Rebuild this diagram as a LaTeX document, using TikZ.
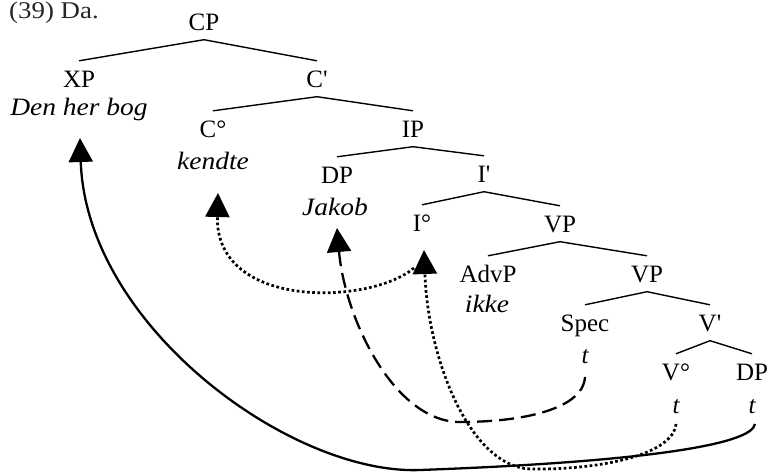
\documentclass[tikz,border=0pt]{standalone}
\usepackage{fontspec}
\setmainfont{Liberation Serif}
\usetikzlibrary{arrows.meta}
\newcommand\wstretch[1]{\scalebox{1.1}[1]{#1}}
\begin{document}
\begin{tikzpicture}[x=1pt,y=-1pt,
  cat/.style={anchor=base, font=\fontsize{25}{30}\selectfont, inner xsep=0pt, inner ysep=9.5pt, text height=16.5pt, text depth=0pt},
  wd/.style={anchor=base, font=\fontsize{25}{30}\selectfont\itshape, inner sep=0pt},
  branch/.style={line width=1.4pt},
  mv/.style={line width=2.3pt, -{Triangle[length=24pt,width=24pt]}},
  dottedmv/.style={mv, line width=2.7pt, dash pattern=on 2.7pt off 2.5pt},
  dashedmv/.style={mv, dash pattern=on 15pt off 7pt}]
\useasboundingbox (0,0) rectangle (772,472);
\clip (0,0) rectangle (772,472);
\fill[white] (0,0) rectangle (772,472);
% example label
\node[anchor=base west, font=\fontsize{24}{28}\selectfont, inner sep=0pt, text=black!85] (ex) at (9,18) {\scalebox{1.12}[1]{(39) Da.}};
% tree nodes
\node[cat] (cp) at (204,30) {CP};
\node[cat] (xp) at (79,87) {XP};
\node[wd] (xpw) at (79,115) {\wstretch{Den her bog}};
\node[cat] (cbar) at (317,87) {C\textquotesingle};
\node[cat] (c0) at (213,137) {C°};
\node[wd] (c0w) at (213,169) {\wstretch{kendte}};
\node[cat] (ip) at (413,137) {IP};
\node[cat] (dp) at (337,183) {DP};
\node[wd] (dpw) at (335,215) {\wstretch{Jakob}};
\node[cat] (ibar) at (484,182) {I\textquotesingle};
\node[cat] (i0) at (422,231) {I°};
\node[cat] (vp) at (560,232) {VP};
\node[cat] (advp) at (488,282) {AdvP};
\node[wd] (advpw) at (487,312) {\wstretch{ikke}};
\node[cat] (vpb) at (647,282) {VP};
\node[cat] (spec) at (585,331) {Spec};
\node[wd] (specw) at (585,363) {t};
\node[cat] (vbar) at (710,331) {V\textquotesingle};
\node[cat] (v0) at (676,380) {V°};
\node[wd] (v0w) at (676,413) {t};
\node[cat] (dpb) at (752,380) {DP};
\node[wd] (dpbw) at (752,413) {t};
% branches
\draw[branch] (xp.north) -- (cp.south) -- (cbar.north);
\draw[branch] (c0.north) -- (cbar.south) -- (ip.north);
\draw[branch] (dp.north) -- (ip.south) -- (ibar.north);
\draw[branch] (i0.north) -- (ibar.south) -- (vp.north);
\draw[branch] (advp.north) -- (vp.south) -- (vpb.north);
\draw[branch] (spec.north) -- (vpb.south) -- (vbar.north);
\draw[branch] (v0.north) -- (vbar.south) -- (dpb.north);
% movement coordinates
\coordinate (s1) at (755,424);
\coordinate (e1) at (80,138);
\coordinate (s2) at (676,424);
\coordinate (e2) at (424,250);
\coordinate (s3) at (414,268);
\coordinate (e3) at (218,193);
\coordinate (s4) at (585,377);
\coordinate (e4) at (337,228);
% movement arrows
\draw[mv] (s1) .. controls (752,445) and (640,462) .. (420,470) .. controls (290,475) and (86,325) .. (e1);
\draw[dottedmv] (s2) .. controls (673,455) and (600,470) .. (530,469) .. controls (470,466) and (428,360) .. (e2);
\draw[dottedmv] (s3) .. controls (370,305) and (215,310) .. (e3);
\draw[dashedmv] (s4) .. controls (583,410) and (520,422) .. (460,422) .. controls (395,422) and (345,320) .. (e4);
\end{tikzpicture}
\end{document}
